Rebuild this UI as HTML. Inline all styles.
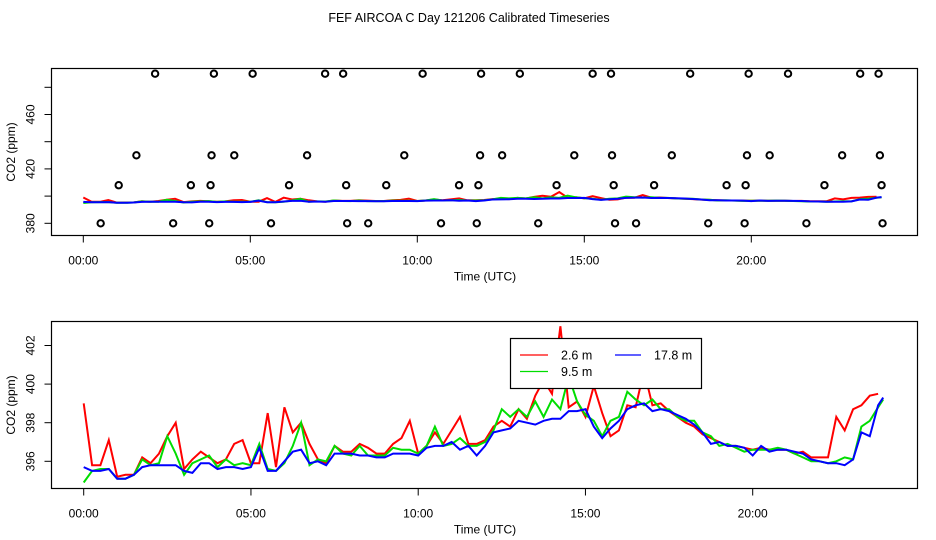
<!DOCTYPE html>
<html><head><meta charset="utf-8"><style>
html,body{margin:0;padding:0;background:#fff;}
svg{display:block;font-family:"Liberation Sans",Arial,sans-serif;}
</style></head><body>
<svg id="chart" width="936" height="540" viewBox="0 0 936 540"></svg>
<script>
const times = [0,0.25,0.5,0.75,1,1.25,1.5,1.75,2,2.25,2.5,2.75,3,3.25,3.5,3.75,4,4.25,4.5,4.75,5,5.25,5.5,5.75,6,6.25,6.5,6.75,7,7.25,7.5,7.75,8,8.25,8.5,8.75,9,9.25,9.5,9.75,10,10.25,10.5,10.75,11,11.25,11.5,11.75,12,12.25,12.5,12.75,13,13.25,13.5,13.75,14,14.25,14.5,14.75,15,15.25,15.5,15.75,16,16.25,16.5,16.75,17,17.25,17.5,17.75,18,18.25,18.5,18.75,19,19.25,19.5,19.75,20,20.25,20.5,20.75,21,21.25,21.5,21.75,22,22.25,22.5,22.75,23,23.25,23.5,23.75,23.9];
const red26 = [399.0,395.8,395.8,397.1,395.2,395.3,395.3,396.2,395.9,396.4,397.3,398.0,395.6,396.1,396.5,396.2,395.9,396.1,396.9,397.1,395.9,395.9,398.5,395.7,398.8,397.5,398.0,396.9,396.1,395.9,396.8,396.5,396.5,396.9,396.7,396.4,396.4,396.9,397.2,398.1,396.4,396.8,397.5,396.9,397.6,398.3,396.9,396.9,397.1,397.8,398.1,397.8,398.7,398.2,399.4,400.2,399.5,403.0,398.8,399.1,398.3,399.9,398.5,397.3,397.6,398.9,398.8,400.7,398.9,399.0,398.6,398.3,398.0,397.8,397.4,397.2,397.0,396.8,396.8,396.7,396.6,396.7,396.6,396.6,396.6,396.4,396.5,396.2,396.2,396.2,398.3,397.6,398.7,398.9,399.4,399.5];
const green95 = [394.9,395.5,395.6,395.6,395.1,395.1,395.3,396.1,395.8,395.9,397.3,396.4,395.3,395.9,396.1,396.3,395.7,396.1,395.8,395.9,395.8,396.9,395.6,395.5,395.9,396.8,398.0,395.8,396.1,396.0,396.8,396.4,396.3,396.8,396.3,396.3,396.3,396.7,396.6,396.6,396.4,396.8,397.8,396.8,396.9,397.2,396.8,396.8,397.0,397.6,398.7,398.3,398.7,398.3,399.1,398.3,399.2,398.7,400.4,399.1,398.4,398.1,397.3,398.1,398.3,399.6,399.2,398.9,399.2,398.7,398.7,398.3,398.1,398.1,397.5,397.3,396.8,396.9,396.7,396.5,396.6,396.6,396.6,396.7,396.6,396.4,396.2,396.0,396.0,395.9,396.0,396.2,396.1,397.8,398.1,398.8,399.2];
const blue178 = [395.7,395.5,395.5,395.6,395.1,395.1,395.3,395.7,395.8,395.8,395.8,395.8,395.5,395.4,395.9,395.9,395.6,395.7,395.7,395.6,395.7,396.7,395.5,395.5,396.0,396.5,396.6,395.9,396.0,395.8,396.4,396.4,396.4,396.3,396.3,396.2,396.2,396.4,396.4,396.4,396.3,396.7,396.8,396.8,397.0,396.6,396.8,396.3,396.8,397.5,397.6,397.7,398.1,398.0,397.9,398.1,398.2,398.2,398.6,398.6,398.7,397.8,397.2,397.7,398.1,398.7,398.9,399.0,398.6,398.7,398.6,398.4,398.2,397.9,397.5,396.9,397.0,396.8,396.8,396.7,396.3,396.8,396.5,396.6,396.6,396.5,396.4,396.1,396.0,395.9,395.9,395.8,396.1,397.5,397.3,398.9,399.3];
const flagTimes = [2.15,3.91,5.07,7.24,7.78,10.16,11.91,13.07,15.25,15.80,18.17,19.92,21.10,23.26,23.81,
 1.59,3.84,4.52,6.70,9.61,11.88,12.54,14.70,15.83,17.62,19.87,20.55,22.72,23.85,
 1.06,3.22,3.81,6.16,7.87,9.07,11.25,11.83,14.17,15.88,17.09,19.26,19.83,22.19,23.90,
 0.52,2.69,3.77,5.62,7.90,8.53,10.71,11.78,13.62,15.92,16.55,18.71,19.80,21.65,23.93];
const flagValues = [490,490,490,490,490,490,490,490,490,490,490,490,490,490,490,
 430,430,430,430,430,430,430,430,430,430,430,430,430,430,
 408,408,408,408,408,408,408,408,408,408,408,408,408,408,408,
 380,380,380,380,380,380,380,380,380,380,380,380,380,380,380];
const hourTicks = [0,5,10,15,20];
const hourLabels = ["00:00","05:00","10:00","15:00","20:00"];
const topYTicks = [380,400,420,440,460,480];
const topYLabels = ["380","","420","","460",""];
const botYTicks = [396,398,400,402];
const botYLabels = ["396","398","400","402"];
const legendLabels = ["2.6 m","9.5 m","17.8 m"];

const NS="http://www.w3.org/2000/svg";
const svg=document.getElementById('chart');
function mk(tag,attrs,parent){const e=document.createElementNS(NS,tag);for(const k in attrs)e.setAttribute(k,attrs[k]);(parent||svg).appendChild(e);return e;}

const title=mk('text',{x:469,y:22,'text-anchor':'middle','font-size':12.5});
title.textContent='FEF AIRCOA C  Day 121206  Calibrated Timeseries';



function panel(cfg){
  const g=mk('g',{});
  
  
  const xs=h=>cfg.x0+h*cfg.xk;
  const ys=v=>cfg.y0-(v-cfg.v0)*cfg.yk;
  // axes ticks
  hourTicks.forEach((h,i)=>{
    const t=mk('line',{x1:xs(h),x2:xs(h),y1:cfg.by+7,y2:cfg.by+0,stroke:'#000','stroke-width':1},g);
    
    
    const l=mk('text',{x:xs(h),y:cfg.by+29,'text-anchor':'middle','font-size':12},g);
    l.textContent=hourLabels[i];
    
    
  });
  cfg.yticks.forEach((v,i)=>{
    const t=mk('line',{x1:cfg.bx-7,x2:cfg.bx,y1:ys(v),y2:ys(v),stroke:'#000','stroke-width':1},g);
    
    
    if(cfg.ylabels[i]){
      const l=mk('text',{x:0,y:0,'text-anchor':'middle','font-size':12,transform:`translate(${cfg.bx-17},${ys(v)}) rotate(-90)`},g);
      l.textContent=cfg.ylabels[i];
      
      
    }
  });
  const xt=mk('text',{x:485,y:cfg.by+45,'text-anchor':'middle','font-size':12},g);
  xt.textContent='Time (UTC)';
  
  
  const yt=mk('text',{x:0,y:0,'text-anchor':'middle','font-size':12,transform:`translate(15,${(cfg.ty+cfg.by)/2}) rotate(-90)`},g);
  yt.textContent='CO2 (ppm)';
  
  
  // series
  const series=[[red26,'#ff0000','series-2-6m'],[green95,'#00dd00','series-9-5m'],[blue178,'#0000ff','series-17-8m']];
  series.forEach(s=>{
    const pts=s[0].map((v,i)=>xs(times[i]).toFixed(1)+','+ys(v).toFixed(1)).join(' ');
    const p=mk('polyline',{points:pts,fill:'none',stroke:s[1],'stroke-width':2,'stroke-linejoin':'miter'},g);
    
    
  });
  if(cfg.flags){
    flagTimes.forEach((h,i)=>{
      const c=mk('circle',{cx:xs(h),cy:ys(flagValues[i]),r:3.2,fill:'none',stroke:'#000','stroke-width':2},g);
      
      
    });
  }
  const box=mk('rect',{x:cfg.bx,y:cfg.ty,width:cfg.rx-cfg.bx,height:cfg.by-cfg.ty,fill:'none',stroke:'#000','stroke-width':1.2},g);
  
  
  return {g,xs,ys};
}

panel({name:'top-panel',x0:83.3,xk:33.4,v0:380,y0:223.3,yk:1.36,bx:51.5,rx:917.5,ty:68.5,by:235.5,yticks:topYTicks,ylabels:topYLabels,flags:true});
panel({name:'bottom-panel',x0:83.7,xk:33.45,v0:396,y0:461.3,yk:19.3,bx:51.5,rx:917.5,ty:321.5,by:488.5,yticks:botYTicks,ylabels:botYLabels,flags:false});

// legend
const lg=mk('g',{});


mk('rect',{x:510.5,y:338.5,width:191,height:50,fill:'#fff',stroke:'#000','stroke-width':1.2},lg);
const entries=[[520,548,355,561,'#ff0000',legendLabels[0]],[520,548,371.5,561,'#00dd00',legendLabels[1]],[615,641,355,654,'#0000ff',legendLabels[2]]];
entries.forEach(e=>{
  const eg=mk('g',{},lg);
  
  
  mk('line',{x1:e[0],x2:e[1],y1:e[2],y2:e[2],stroke:e[4],'stroke-width':1.3},eg);
  const t=mk('text',{x:e[3],y:e[2]+4.5,'font-size':12.5},eg);
  t.textContent=e[5];
});
</script>
</body></html>
